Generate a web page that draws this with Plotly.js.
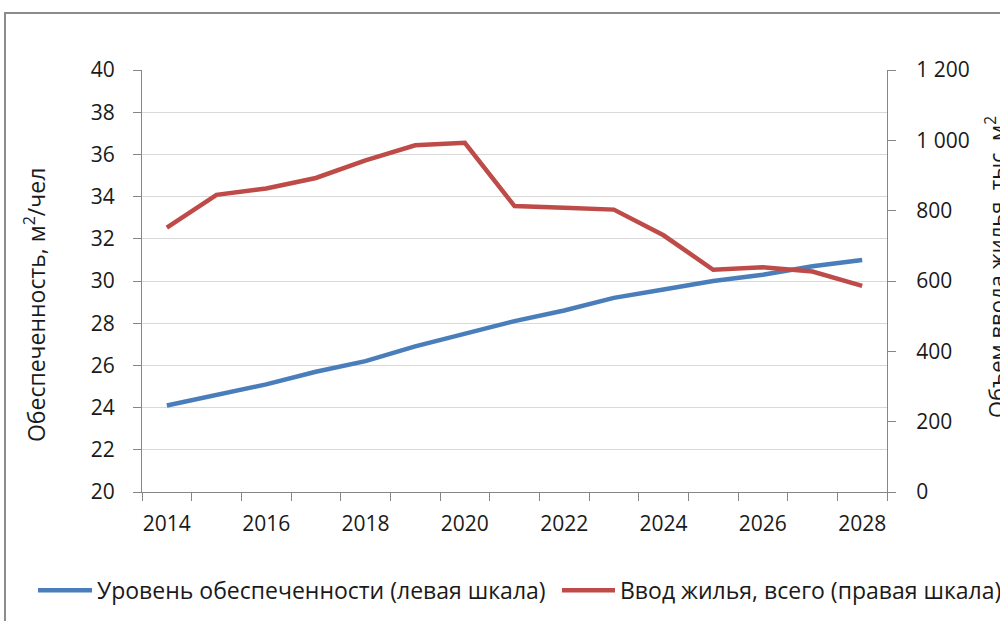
<!DOCTYPE html>
<html><head><meta charset="utf-8">
<script src="https://cdn.plot.ly/plotly-3.0.1.min.js"></script>
<style>
html,body{margin:0;padding:0;background:#fff;overflow:hidden;}
#wrap{position:relative;width:1000px;height:621px;}
#chart{width:1000px;height:621px;}
#frame{position:absolute;left:4px;top:12px;width:1100px;height:700px;border-left:2px solid #8c8c8c;border-top:2px solid #8c8c8c;pointer-events:none;}
</style></head>
<body><div id="wrap"><div id="chart"></div><div id="frame"></div></div>
<script>
const years = [2014,2015,2016,2017,2018,2019,2020,2021,2022,2023,2024,2025,2026,2027,2028];
const provision = [24.1,24.6,25.1,25.7,26.2,26.9,27.5,28.1,28.6,29.2,29.6,30.0,30.3,30.7,31.0];
const housing = [752,845,863,893,943,986,993,813,808,803,730,632,639,627,586];
const xLabels = ['2014','2016','2018','2020','2022','2024','2026','2028'];
const xLabelVals = [2014,2016,2018,2020,2022,2024,2026,2028];
const leftTicks = [20,22,24,26,28,30,32,34,36,38,40];
const rightTicks = [0,200,400,600,800,1000,1200];
const rightTickText = ['0','200','400','600','800','1 000','1 200'];
const seriesNames = ['Уровень обеспеченности (левая шкала)','Ввод жилья, всего (правая шкала)'];
const seriesColors = ['#4a7ebb','#be4b48'];
const boundaries = years.map(y => y - 0.5).concat([years[years.length-1] + 0.5]);

const FAM = '"Open Sans", "Noto Sans", sans-serif';
const TXT = '#1a1a1a';
const axisColor = '#868686';
const tickFont = {family:FAM, size:21, color:TXT};

const traces = [
  {x: years, y: provision, name: seriesNames[0], type:'scatter', mode:'lines',
   line:{color:seriesColors[0], width:4.5}, xaxis:'x', yaxis:'y'},
  {x: years, y: housing, name: seriesNames[1], type:'scatter', mode:'lines',
   line:{color:seriesColors[1], width:4.5}, xaxis:'x', yaxis:'y2'},
  {x:[years[0]], y:[leftTicks[0]], xaxis:'x2', yaxis:'y', mode:'markers', marker:{opacity:0}, showlegend:false, hoverinfo:'skip'}
];

// custom legend (line samples + labels)
const legY = -0.233;
const legendItems = [
  {x0:-0.1396, x1:-0.0671, tx:-0.0631},
  {x0:0.5637, x1:0.6349, tx:0.6389}
];
const shapes = legendItems.map((it, i) => ({
  type:'line', xref:'paper', yref:'paper', x0:it.x0, x1:it.x1, y0:legY, y1:legY,
  line:{color:seriesColors[i], width:4.5}
}));
const legendAnn = legendItems.map((it, i) => ({
  text:seriesNames[i], xref:'paper', yref:'paper', x:it.tx, y:legY, xanchor:'left', yanchor:'middle',
  showarrow:false, font:{family:FAM, size:23, color:TXT}
}));

const layout = {
  width:1000, height:621,
  margin:{l:142, r:113, t:70, b:129},
  paper_bgcolor:'#fff', plot_bgcolor:'#fff',
  font:{family:FAM, size:20, color:TXT},
  showlegend:false,
  xaxis:{range:[2013.5, 2028.5], tickmode:'array', tickvals:boundaries, showticklabels:false,
         ticks:'outside', ticklen:8, tickcolor:axisColor, tickwidth:1,
         showline:true, linecolor:axisColor, linewidth:1, showgrid:false, zeroline:false},
  xaxis2:{range:[2013.5, 2028.5], overlaying:'x', anchor:'y', side:'bottom', tickmode:'array',
          tickvals:xLabelVals, ticktext:xLabels, ticks:'', showline:false, showgrid:false, zeroline:false,
          tickfont:tickFont, ticklabelstandoff:17},
  yaxis:{range:[20,40], tickmode:'array', tickvals:leftTicks, ticks:'outside', ticklen:8, tickcolor:axisColor,
         showline:true, linecolor:axisColor, linewidth:1, showgrid:true, gridcolor:'#d9d9d9', gridwidth:1,
         zeroline:false, tickfont:tickFont, ticklabelstandoff:14},
  yaxis2:{range:[0,1200], overlaying:'y', side:'right', tickmode:'array', tickvals:rightTicks, ticktext:rightTickText,
          ticks:'outside', ticklen:8, tickcolor:axisColor, showline:true, linecolor:axisColor, linewidth:1,
          showgrid:false, zeroline:false, tickfont:tickFont, ticklabelstandoff:16},
  shapes: shapes,
  annotations:[
    {text:'Обеспеченность, м<sup>2</sup>/чел', xref:'paper', yref:'paper', x:-0.1436, y:0.443,
     textangle:-90, showarrow:false, xanchor:'center', yanchor:'middle', font:{family:FAM, size:23, color:TXT}},
    {text:'Объем ввода жилья, тыс. м<sup>2</sup>', xref:'paper', yref:'paper', x:1.145, y:0.533,
     textangle:-90, showarrow:false, xanchor:'center', yanchor:'middle', font:{family:FAM, size:22, color:TXT}}
  ].concat(legendAnn)
};

Plotly.newPlot('chart', traces, layout, {displayModeBar:false, staticPlot:true});
</script></body></html>
